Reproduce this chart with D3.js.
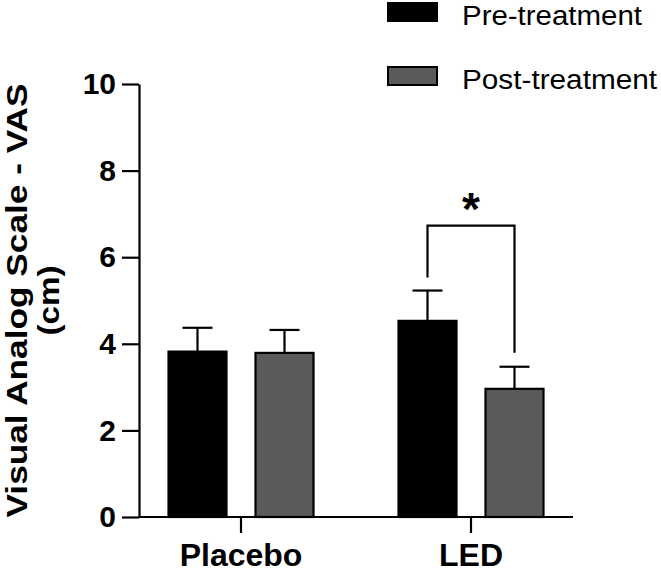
<!DOCTYPE html>
<html>
<head>
<meta charset="utf-8">
<script src="https://cdn.jsdelivr.net/npm/d3@7"></script>
<style>
  body { margin: 0; background: #fff; }
  svg { display: block; font-family: 'Liberation Sans', Arial, sans-serif; }
</style>
</head>
<body>
<div id="chart"></div>
<script>
// values
const categories = ['Placebo', 'LED'];
const seriesNames = ['Pre-treatment', 'Post-treatment'];
const preMeans = [3.82, 4.53];
const preErrors = [0.55, 0.70];
const postMeans = [3.79, 2.96];
const postErrors = [0.53, 0.51];
const yTicks = [0, 2, 4, 6, 8, 10];
const colours = ['#000000', '#5a5a5a'];
// significance bracket between LED pre and post
const sigCategory = 'LED';
const sigLevel = 6.73;
const sigLabel = '*';

const width = 661;
const height = 573;

const svg = d3.select('#chart').append('svg')
  .attr('width', width)
  .attr('height', height);

const yScale = d3.scaleLinear()
  .domain([0, 10])
  .range([517, 84]);

const xScale = d3.scaleBand()
  .domain(categories)
  .range([126, 586])
  .padding(0);

const subScale = d3.scaleBand()
  .domain(seriesNames)
  .range([-72.5, 72.5])
  .paddingInner(1 / 3)
  .paddingOuter(0);

const rows = [];
categories.forEach((c, i) => {
  rows.push({ cat: c, series: seriesNames[0], mean: preMeans[i], err: preErrors[i] });
  rows.push({ cat: c, series: seriesNames[1], mean: postMeans[i], err: postErrors[i] });
});
const centre = (d) => xScale(d.cat) + xScale.bandwidth() / 2 + subScale(d.series) + subScale.bandwidth() / 2;

// y axis
const yAxis = svg.append('g')
  .attr('transform', 'translate(139,0)')
  .call(d3.axisLeft(yScale).tickValues(yTicks).tickSize(17).tickPadding(6).tickSizeOuter(0));
yAxis.select('.domain').attr('stroke-width', 2.2);
yAxis.selectAll('.tick line').attr('stroke-width', 2.2);
yAxis.selectAll('.tick text')
  .attr('font-size', 30)
  .attr('font-weight', 'bold')
  .attr('fill', '#000')
  .attr('font-family', "'Liberation Sans', Arial, sans-serif");

// x axis
svg.append('line')
  .attr('x1', 139).attr('x2', 573)
  .attr('y1', yScale(0)).attr('y2', yScale(0))
  .attr('stroke', '#000').attr('stroke-width', 2.2);

svg.selectAll('.xtick')
  .data(categories)
  .enter().append('line')
  .attr('class', 'xtick')
  .attr('x1', (d) => xScale(d) + xScale.bandwidth() / 2)
  .attr('x2', (d) => xScale(d) + xScale.bandwidth() / 2)
  .attr('y1', yScale(0))
  .attr('y2', yScale(0) + 16)
  .attr('stroke', '#000').attr('stroke-width', 2.2);

svg.selectAll('.xlabel')
  .data(categories)
  .enter().append('text')
  .attr('class', 'xlabel')
  .attr('x', (d) => xScale(d) + xScale.bandwidth() / 2)
  .attr('y', 566)
  .attr('text-anchor', 'middle')
  .attr('font-size', 32)
  .attr('font-weight', 'bold')
  .text((d) => d);

// y title
const yTitle = svg.append('text')
  .attr('transform', 'translate(0,' + (yScale(5)) + ') rotate(-90)')
  .attr('text-anchor', 'middle')
  .attr('font-size', 29)
  .attr('font-weight', 'bold');
yTitle.append('tspan').attr('x', 0).attr('y', 26.5)
  .attr('textLength', 434).attr('lengthAdjust', 'spacingAndGlyphs')
  .text('Visual Analog Scale - VAS');
yTitle.append('tspan').attr('x', 0).attr('y', 59)
  .attr('textLength', 70).attr('lengthAdjust', 'spacingAndGlyphs')
  .text('(cm)');

// error bars (upper only)
const errG = svg.selectAll('.err')
  .data(rows)
  .enter().append('g')
  .attr('class', 'err');
errG.append('line')
  .attr('x1', centre).attr('x2', centre)
  .attr('y1', (d) => yScale(d.mean))
  .attr('y2', (d) => yScale(d.mean + d.err))
  .attr('stroke', '#000').attr('stroke-width', 2.2);
errG.append('line')
  .attr('x1', (d) => centre(d) - 15).attr('x2', (d) => centre(d) + 15)
  .attr('y1', (d) => yScale(d.mean + d.err))
  .attr('y2', (d) => yScale(d.mean + d.err))
  .attr('stroke', '#000').attr('stroke-width', 2.2);

// bars
svg.selectAll('.bar')
  .data(rows)
  .enter().append('rect')
  .attr('class', 'bar')
  .attr('x', (d) => centre(d) - subScale.bandwidth() / 2)
  .attr('width', subScale.bandwidth())
  .attr('y', (d) => yScale(d.mean))
  .attr('height', (d) => yScale(0) - yScale(d.mean))
  .style('fill', (d) => colours[seriesNames.indexOf(d.series)])
  .attr('stroke', '#000')
  .attr('stroke-width', 2.2);

// significance bracket
const sigRows = rows.filter((d) => d.cat === sigCategory);
const a = sigRows[0], b = sigRows[1];
const bracket = d3.path();
bracket.moveTo(centre(a), yScale(a.mean + a.err) - 13);
bracket.lineTo(centre(a), yScale(sigLevel));
bracket.lineTo(centre(b), yScale(sigLevel));
bracket.lineTo(centre(b), yScale(b.mean + b.err) - 14);
svg.append('path')
  .attr('d', bracket.toString())
  .attr('fill', 'none')
  .attr('stroke', '#000')
  .attr('stroke-width', 2.2);
svg.append('text')
  .attr('x', (centre(a) + centre(b)) / 2)
  .attr('y', yScale(sigLevel) - 1)
  .attr('text-anchor', 'middle')
  .attr('font-size', 46)
  .attr('font-weight', 'bold')
  .text(sigLabel);

// legend
const legendTextLength = [180, 195];
const legend = svg.selectAll('.legend')
  .data(seriesNames)
  .enter().append('g')
  .attr('class', 'legend')
  .attr('transform', (d, i) => 'translate(388,' + (3 + i * 64) + ')');
legend.append('rect')
  .attr('width', 49).attr('height', 18)
  .style('fill', (d, i) => colours[i])
  .attr('stroke', '#000').attr('stroke-width', 2);
legend.append('text')
  .attr('x', 74).attr('y', 21.5)
  .attr('font-size', 27)
  .attr('textLength', (d, i) => legendTextLength[i])
  .attr('lengthAdjust', 'spacingAndGlyphs')
  .text((d) => d);
</script>
</body>
</html>
